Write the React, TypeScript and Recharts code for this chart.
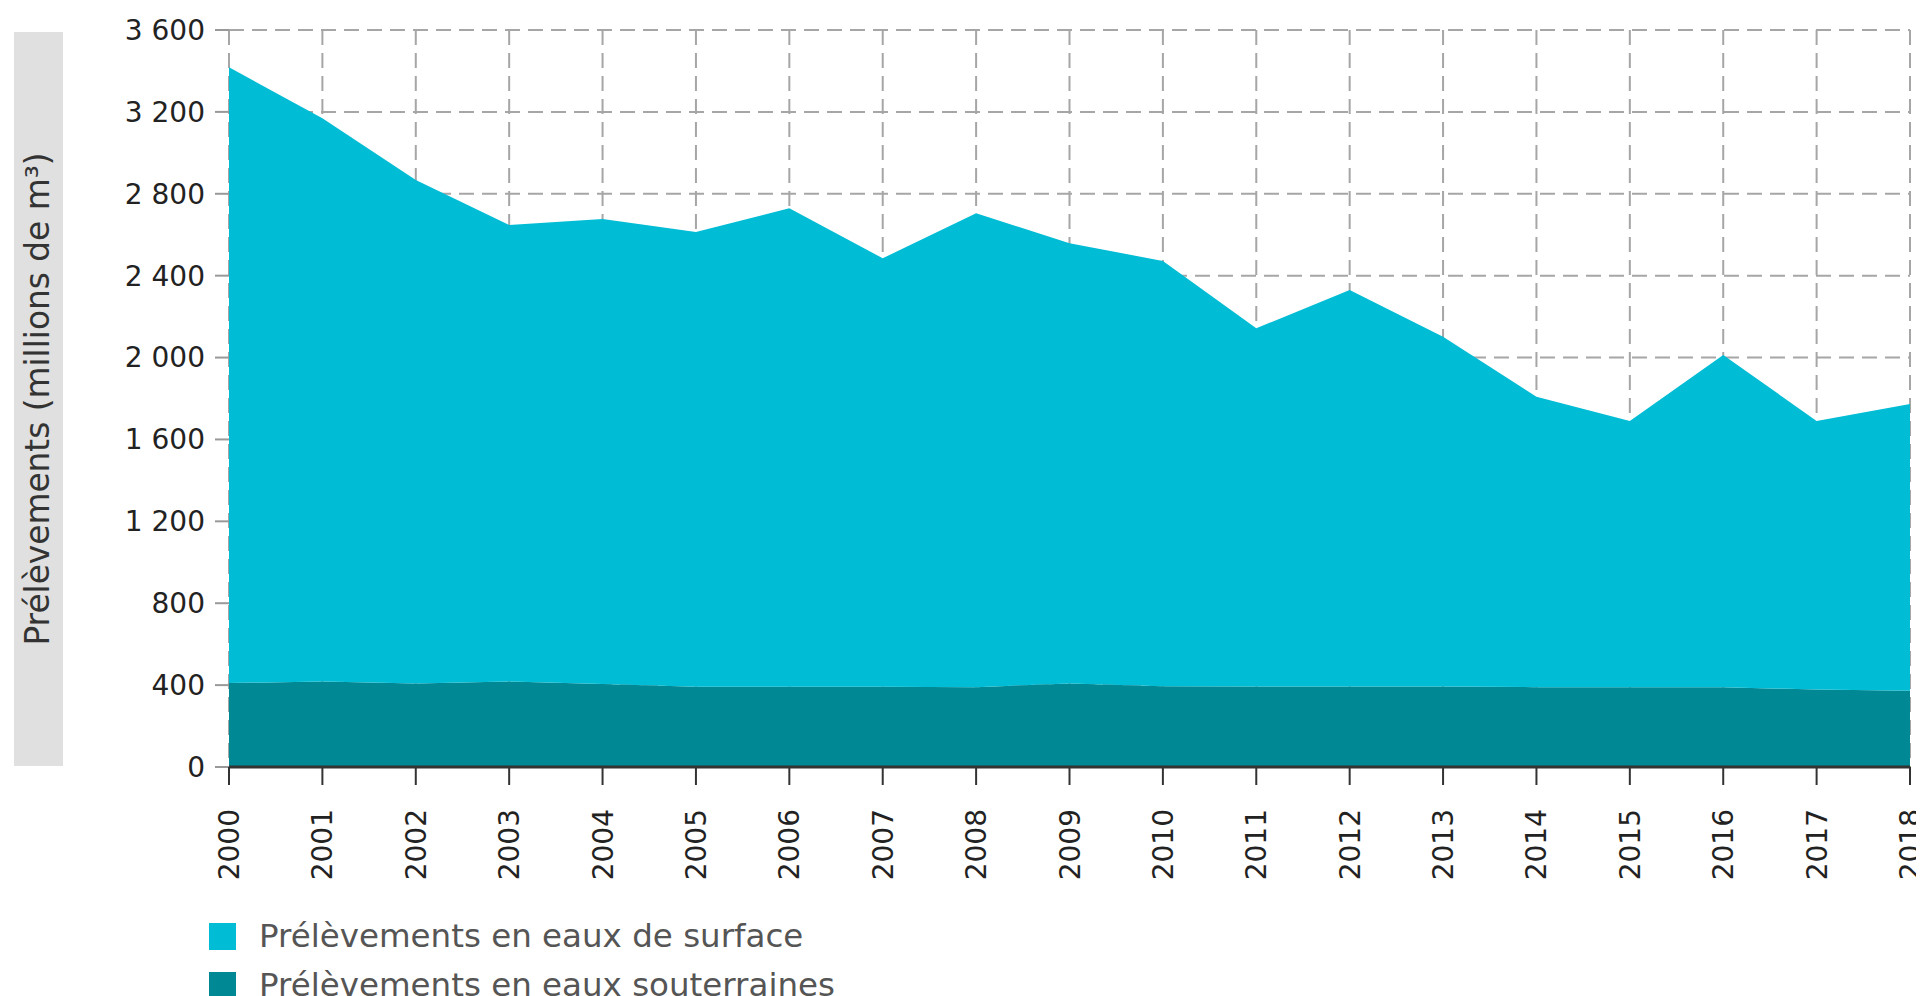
import React from 'react';
import { AreaChart, Area, XAxis, YAxis, CartesianGrid } from 'recharts';

const years = ['2000','2001','2002','2003','2004','2005','2006','2007','2008','2009','2010','2011','2012','2013','2014','2015','2016','2017','2018'];
const surfaceValues = [3008,2751,2459,2230,2272,2221,2337,2093,2315,2150,2077,1750,1937,1709,1419,1300,1623,1312,1401];
const groundValues = [410,418,408,418,405,392,392,392,390,408,395,393,393,393,390,390,390,378,372];
const yTicks = [0,400,800,1200,1600,2000,2400,2800,3200,3600];

const seriesNames = {
  surface: 'Prélèvements en eaux de surface',
  ground: 'Prélèvements en eaux souterraines',
};
const yLabel = 'Prélèvements (millions de m³)';

const SURFACE_COLOR = '#00bcd4';
const GROUND_COLOR = '#008894';
const FONT = '"DejaVu Sans", Verdana, sans-serif';

const data = years.map((y, i) => ({ year: y, surface: surfaceValues[i], ground: groundValues[i] }));

const fmt = (v: number) => {
  const s = String(v);
  if (s.length > 3) return s.slice(0, s.length - 3) + '\u00a0' + s.slice(s.length - 3);
  return s;
};

const XTick = (props: any) => {
  const { x, y, payload } = props;
  const tx = x + 10;
  const ty = y + 9;
  return (
    <text
      x={tx}
      y={ty}
      transform={`rotate(-90, ${tx}, ${ty})`}
      textAnchor="end"
      fontSize={28}
      fontFamily={FONT}
      fill="#222"
    >
      {payload.value}
    </text>
  );
};

const legendItems = [
  { name: seriesNames.surface, color: SURFACE_COLOR },
  { name: seriesNames.ground, color: GROUND_COLOR },
];

export default function App() {
  return (
    <div style={{ position: 'relative', width: 1916, height: 988, fontFamily: FONT }}>
      <svg width={49} height={734} style={{ position: 'absolute', left: 6, top: 24 }}>
        <rect x={0} y={0} width={49} height={734} fill="#e0e0e0" />
        <text
          x={35}
          y={367}
          transform="rotate(-90, 35, 367)"
          textAnchor="middle"
          fontSize={32.8}
          fontFamily={FONT}
          fill="#333"
        >
          {yLabel}
        </text>
      </svg>
      <div style={{ position: 'absolute', left: 0, top: 0 }}>
        <AreaChart
          width={1916}
          height={988}
          data={data}
          margin={{ top: 22, right: 14, bottom: 109, left: 0 }}
        >
          <CartesianGrid stroke="#a6a6a6" strokeWidth={2} strokeDasharray="15 8" />
          <Area
            type="linear"
            dataKey="ground"
            name={seriesNames.ground}
            stackId="1"
            stroke="none"
            fill={GROUND_COLOR}
            fillOpacity={1}
            isAnimationActive={false}
          />
          <Area
            type="linear"
            dataKey="surface"
            name={seriesNames.surface}
            stackId="1"
            stroke="none"
            fill={SURFACE_COLOR}
            fillOpacity={1}
            isAnimationActive={false}
          />
          <YAxis
            width={221}
            domain={[0, 3600]}
            ticks={yTicks}
            interval={0}
            tickFormatter={fmt}
            axisLine={false}
            tickLine={{ stroke: '#999', strokeWidth: 2 }}
            tickSize={14}
            tickMargin={10}
            tick={{ fontSize: 28, fill: '#222', fontFamily: FONT }}
          />
          <XAxis
            dataKey="year"
            height={120}
            interval={0}
            tick={<XTick />}
            tickSize={18}
            tickMargin={15}
            tickLine={{ stroke: '#333', strokeWidth: 2 }}
            axisLine={{ stroke: '#333', strokeWidth: 3 }}
          />
        </AreaChart>
      </div>
      <div style={{ position: 'absolute', left: 201, top: 904, fontFamily: FONT }}>
        {legendItems.map((it) => (
          <div key={it.name} style={{ display: 'flex', alignItems: 'center', height: 49 }}>
            <div style={{ width: 27, height: 27, background: it.color, marginRight: 23 }} />
            <span style={{ fontSize: 32.5, color: '#555', lineHeight: '27px', whiteSpace: 'nowrap' }}>{it.name}</span>
          </div>
        ))}
      </div>
    </div>
  );
}
